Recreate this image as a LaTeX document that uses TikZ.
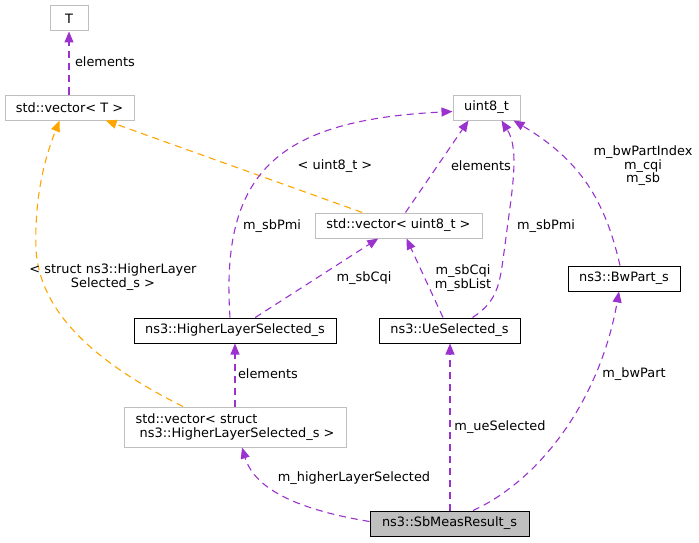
\documentclass[tikz,border=0pt]{standalone}
\usepackage{fontspec}
\setmainfont{DejaVu Sans}
\usetikzlibrary{arrows.meta}
\definecolor{collab}{HTML}{9A32CD}
\definecolor{templ}{HTML}{FFA500}
\definecolor{undoc}{HTML}{BFBFBF}

\begin{document}
\begin{tikzpicture}[x=1pt,y=-1pt,font=\fontsize{12.9}{13.6}\selectfont,
    link/.style={draw, color=collab, line width=1.1pt, dash pattern=on 7pt off 5pt,
      -{Triangle[length=11pt,width=9pt]}},
    tmpl/.style={link, color=templ}]

      \useasboundingbox (0,0) rectangle (699,543);

      \begin{scope}[every node/.style={draw, line width=1pt, minimum height=25pt, inner xsep=2pt, inner ysep=0pt}]
        \node[draw=undoc, minimum width=38pt]  (1) at (69,18.5)    {T};
        \node[draw=undoc, minimum width=129pt] (2) at (69.5,107.5) {std::vector< T >};
        \node[draw=undoc, minimum width=67pt]  (3) at (486.5,107.5) {uint8\_t};
        \node[draw=undoc, minimum width=167pt] (4) at (398.5,225.5) {std::vector< uint8\_t >};
        \node[minimum width=112pt]             (5) at (624,278.5)  {ns3::BwPart\_s};
        \node[minimum width=202pt]             (6) at (235,330.5)  {ns3::HigherLayerSelected\_s};
        \node[minimum width=141pt]             (7) at (449.5,330.5) {ns3::UeSelected\_s};
        \node[draw=undoc, minimum width=222pt, minimum height=40pt, align=left]
                                               (8) at (235,427)    {std::vector< struct\\\ ns3::HigherLayerSelected\_s >};
        \node[fill=undoc, minimum width=159pt] (9) at (449.5,523.5) {ns3::SbMeasResult\_s};
      \end{scope}

      % connectors
      \draw[link] (2.north -| 1.south) -- (1.south);
      \draw[tmpl] (4) -- (2);
      \draw[tmpl] ([xshift=-52pt]8.north) .. controls (90,360) and (40,310) .. (36,250)
                  .. controls (34,190) and (48,150) .. ([xshift=-10pt]2.south);
      \draw[link] ([xshift=-5pt]6.north) .. controls (220,170) and (280,120) .. ([yshift=-4pt]3.west);
      \draw[link] (6) -- (4);
      \draw[link] ([xshift=7pt]4.north) -- ([xshift=-18pt]3.south);
      \draw[link] ([xshift=-6.5pt]7.north) -- ([xshift=8pt]4.south);
      \draw[link] ([xshift=23pt]7.north) .. controls (500,300) and (500,280) .. (505,245)
                  .. controls (512,190) and (520,150) .. ([xshift=15pt]3.south);
      \draw[link] ([xshift=-4pt]5.north) .. controls (605,200) and (580,160) .. ([xshift=27pt]3.south);
      \draw[link] ([yshift=2pt]9.west) .. controls (300,510) and (255,490) .. ([xshift=7pt]8.south);
      \draw[link] ([xshift=0.5pt]9.north) -- ([xshift=0.5pt]7.south);
      \draw[link] ([xshift=23.5pt]9.north) .. controls (540,480) and (600,400) .. ([xshift=-5pt]5.south);
      \draw[link] (8) -- (6);

      % labels
      \begin{scope}[every node/.style={inner sep=0pt, align=center}]
        \node (l1)  at (105,62)   {elements};
        \node (l2)  at (335,166)  {< uint8\_t >};
        \node (l3)  at (113,277)  {< struct ns3::HigherLayer\\Selected\_s >};
        \node (l4)  at (272,226)  {m\_sbPmi};
        \node (l5)  at (364,278)  {m\_sbCqi};
        \node (l6)  at (481,166)  {elements};
        \node (l7)  at (463,278)  {m\_sbCqi\\m\_sbList};
        \node (l8)  at (546,226)  {m\_sbPmi};
        \node (l9)  at (643,166)  {m\_bwPartIndex\\m\_cqi\\m\_sb};
        \node (l10) at (268,374)  {elements};
        \node (l11) at (500,427)  {m\_ueSelected};
        \node (l12) at (354,478)  {m\_higherLayerSelected};
        \node (l13) at (634,374)  {m\_bwPart};
      \end{scope}

    \end{tikzpicture}
\end{document}
